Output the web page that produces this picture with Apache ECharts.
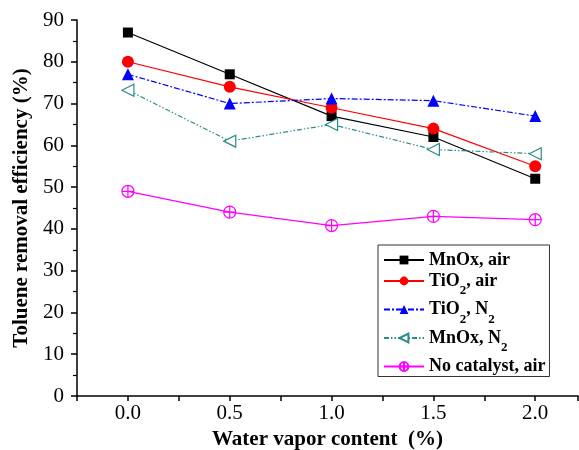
<!DOCTYPE html>
<html><head><meta charset="utf-8">
<script src="https://cdn.jsdelivr.net/npm/echarts@6/dist/echarts.min.js"></script>
<style>html,body{margin:0;padding:0;background:#fff}#c{width:579px;height:450px}</style>
</head><body><div id="c"></div>
<script>
const xValues = [0.0, 0.5, 1.0, 1.5, 2.0];
const mnoxAir = [87, 77, 67, 62, 52];
const tio2Air = [80, 74, 69, 64, 55];
const tio2N2 = [77, 70, 71.2, 70.7, 67];
const mnoxN2 = [73.2, 61, 65, 59, 58];
const noCatalyst = [49, 44, 40.8, 43, 42.2];
const seriesNames = ['MnOx, air', 'TiO2, air', 'TiO2, N2', 'MnOx, N2', 'No catalyst, air'];

const font = '"Liberation Serif", "Times New Roman", serif';
const pairs = arr => xValues.map((x, i) => [x, arr[i]]);
const circlePlus = 'path://M0,-10A10,10,0,1,1,0,10A10,10,0,1,1,0,-10ZM-10,0L10,0M0,-10L0,10';

const chart = echarts.init(document.getElementById('c'), null, {renderer: 'canvas'});
chart.setOption({
  animation: false,
  grid: {left: 77, right: 1, top: 20, bottom: 54, containLabel: false, outerBoundsMode: 'none'},
  xAxis: {
    type: 'value', min: -0.25, max: 2.21, interval: 0.25,
    name: 'Water vapor content  (%)', nameLocation: 'middle', nameGap: 26,
    nameTextStyle: {fontFamily: font, fontWeight: 'bold', fontSize: 21, color: '#000'},
    axisLine: {onZero: false, lineStyle: {color: '#000', width: 1.5}},
    axisTick: {inside: false, length: 5, lineStyle: {color: '#000', width: 1.5}},
    axisLabel: {fontFamily: font, fontSize: 21, color: '#000', margin: 7,
      formatter: v => (v >= 0 && Math.abs(v * 2 - Math.round(v * 2)) < 1e-6) ? v.toFixed(1) : ''},
    splitLine: {show: false}
  },
  yAxis: {
    type: 'value', min: 0, max: 90, interval: 10,
    name: 'Toluene removal efficiency (%)', nameLocation: 'middle', nameGap: 43,
    nameTextStyle: {fontFamily: font, fontWeight: 'bold', fontSize: 21, color: '#000'},
    axisLine: {show: true, onZero: false, lineStyle: {color: '#000', width: 1.5}},
    axisTick: {show: true, length: 6, lineStyle: {color: '#000', width: 1.5}},
    minorTick: {show: true, splitNumber: 2, length: 4, lineStyle: {color: '#000', width: 1.2}},
    axisLabel: {fontFamily: font, fontSize: 21, color: '#000', margin: 13},
    splitLine: {show: false}
  },
  legend: {
    orient: 'vertical', left: 378, top: 245,
    borderColor: '#333', borderWidth: 1, padding: [6, 4, 1, 5],
    itemWidth: 40, itemHeight: 11, itemGap: 3,
    textStyle: {fontFamily: font, fontWeight: 'bold', fontSize: 18, color: '#000', lineHeight: 18,
      rich: {sub: {fontFamily: font, fontWeight: 'bold', fontSize: 13, color: '#000', lineHeight: 14, padding: [10, 0, -10, 0]}}},
    formatter: name => name.replace(/(TiO|N)2/g, '$1{sub|2}'),
    data: seriesNames
  },
  series: [
    {name: seriesNames[0], type: 'line', data: pairs(mnoxAir), symbol: 'rect', symbolSize: 10,
      lineStyle: {color: '#000', width: 1.2}, itemStyle: {color: '#000'}},
    {name: seriesNames[1], type: 'line', data: pairs(tio2Air), symbol: 'circle', symbolSize: 12,
      lineStyle: {color: '#ff0000', width: 1.2}, itemStyle: {color: '#ff0000'}},
    {name: seriesNames[2], type: 'line', data: pairs(tio2N2), symbol: 'triangle', symbolSize: 12,
      lineStyle: {color: '#0000ff', width: 1.2, type: [6, 2, 2, 2]}, itemStyle: {color: '#0000ff'}},
    {name: seriesNames[3], type: 'line', data: pairs(mnoxN2), symbol: 'triangle', symbolSize: 12, symbolRotate: 90,
      lineStyle: {color: '#2e8b8b', width: 1.2, type: [5, 2, 1.5, 2, 1.5, 2]},
      itemStyle: {color: '#ffffff', borderColor: '#2e8b8b', borderWidth: 1.2}},
    {name: seriesNames[4], type: 'line', data: pairs(noCatalyst), symbol: circlePlus, symbolSize: 12,
      lineStyle: {color: '#ff00ff', width: 1.2},
      itemStyle: {color: 'rgba(255,255,255,0)', borderColor: '#ff00ff', borderWidth: 1.2}}
  ]
});
</script></body></html>
